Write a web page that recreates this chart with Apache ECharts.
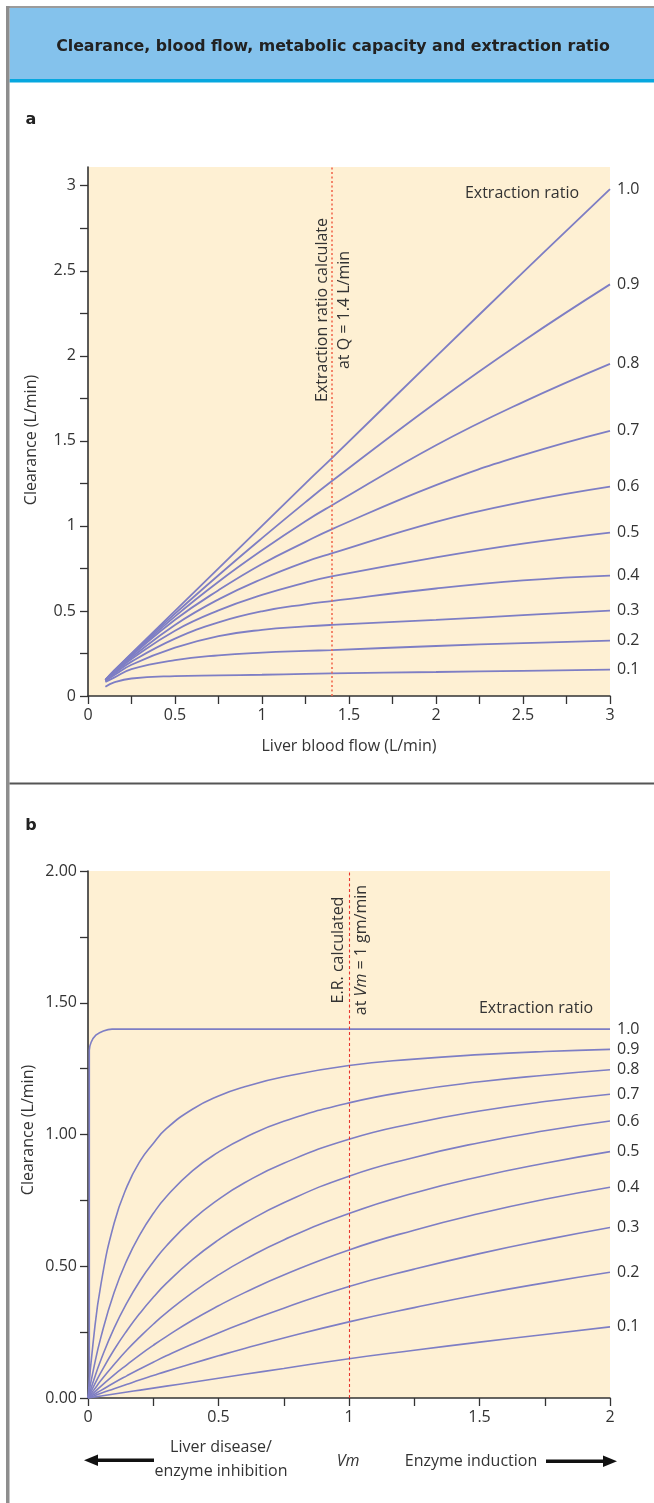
<!DOCTYPE html>
<html><head><meta charset="utf-8">
<script src="https://cdn.jsdelivr.net/npm/echarts@6/dist/echarts.min.js"></script>
<style>html,body{margin:0;padding:0;background:#fff}#c{width:654px;height:1503px}</style>
</head><body><div id="c"></div>
<script>
// ---------- data ----------
const erLabels = ['1.0','0.9','0.8','0.7','0.6','0.5','0.4','0.3','0.2','0.1'];

// Panel a: clearance vs liver blood flow
const flowQ  = [0.1, 0.15, 0.25, 0.5, 0.75, 1.0, 1.25, 1.4, 2.0, 2.5, 3.0];
const clA_10 = [0.095,0.15,0.25,0.5,0.75,1.0,1.25,1.397,1.995,2.49,2.98];
const clA_09 = [0.094,0.148,0.247,0.484,0.71,0.928,1.14,1.262,1.726,2.086,2.42];
const clA_08 = [0.094,0.146,0.241,0.468,0.672,0.857,1.028,1.12,1.474,1.728,1.953];
const clA_07 = [0.093,0.143,0.236,0.448,0.622,0.776,0.906,0.98,1.24,1.416,1.559];
const clA_06 = [0.093,0.14,0.227,0.418,0.568,0.688,0.789,0.838,1.024,1.141,1.231];
const clA_05 = [0.092,0.136,0.217,0.384,0.503,0.594,0.667,0.703,0.815,0.896,0.961];
const clA_04 = [0.091,0.13,0.202,0.337,0.433,0.498,0.539,0.558,0.632,0.680,0.708];
const clA_03 = [0.088,0.122,0.184,0.284,0.352,0.389,0.409,0.418,0.447,0.476,0.502];
const clA_02 = [0.082,0.108,0.158,0.211,0.239,0.255,0.265,0.27,0.294,0.311,0.325];
const clA_01 = [0.055,0.08,0.103,0.117,0.121,0.125,0.13,0.133,0.141,0.148,0.155];
const markQ = 1.4;
const xTicksA = [0,0.25,0.5,0.75,1,1.25,1.5,1.75,2,2.25,2.5,2.75,3];
const xLabelsA = [0,0.5,1,1.5,2,2.5,3];
const yTicksA = [0,0.25,0.5,0.75,1,1.25,1.5,1.75,2,2.25,2.5,2.75,3];
const yLabelsA = [0,0.5,1,1.5,2,2.5,3];

// Panel b: clearance vs Vm
const vmB    = [0,0.02,0.05,0.1,0.15,0.2,0.25,0.3,0.4,0.5,0.6,0.75,1.0,1.25,1.5,1.75,2.0];
const clB_09 = [0,0.214,0.434,0.663,0.804,0.900,0.966,1.022,1.096,1.146,1.181,1.219,1.262,1.286,1.303,1.315,1.323];
const clB_08 = [0,0.104,0.233,0.400,0.525,0.622,0.700,0.764,0.862,0.933,0.988,1.050,1.120,1.167,1.200,1.225,1.246];
const clB_07 = [0,0.062,0.146,0.265,0.363,0.446,0.516,0.577,0.676,0.754,0.817,0.891,0.982,1.043,1.089,1.125,1.153];
const clB_06 = [0,0.041,0.098,0.183,0.257,0.323,0.382,0.435,0.525,0.600,0.663,0.741,0.842,0.913,0.969,1.014,1.051];
const clB_05 = [0,0.027,0.067,0.127,0.183,0.233,0.280,0.323,0.400,0.467,0.525,0.600,0.700,0.778,0.840,0.891,0.935];
const clB_04 = [0,0.018,0.045,0.088,0.127,0.165,0.200,0.233,0.295,0.350,0.400,0.467,0.562,0.637,0.700,0.754,0.800];
const clB_03 = [0,0.012,0.029,0.058,0.085,0.111,0.136,0.160,0.205,0.247,0.286,0.341,0.423,0.489,0.548,0.600,0.647];
const clB_02 = [0,0.007,0.018,0.035,0.052,0.069,0.085,0.101,0.131,0.160,0.188,0.228,0.289,0.343,0.393,0.437,0.477];
const clB_01 = [0,0.003,0.0075,0.015,0.0225,0.03,0.0375,0.045,0.06,0.075,0.09,0.112,0.149,0.181,0.212,0.241,0.270];
const vmB_10 = [0.005,0.005,0.012,0.03,0.059,0.092,2.0];
const clB_10 = [0,1.32,1.35,1.377,1.393,1.40,1.40];
const markVm = 1;
const xTicksB = [0,0.25,0.5,0.75,1,1.25,1.5,1.75,2];
const xLabelsB = [0,0.5,1,1.5,2];

// ---------- chart ----------
const FONT = '"Open Sans", sans-serif';
const LINE = '#7e7ec4';
const TXT = '#333';
const FS = 16;
const pairs = (xs, ys) => xs.map((x, i) => [x, ys[i]]);

const seriesA = [clA_10,clA_09,clA_08,clA_07,clA_06,clA_05,clA_04,clA_03,clA_02,clA_01].map((ys, k) => ({
  type: 'line', name: erLabels[k], xAxisIndex: 0, yAxisIndex: 0,
  data: pairs(flowQ, ys), smooth: 0.45, showSymbol: false, symbol: 'none',
  lineStyle: { color: LINE, width: 1.8 }, silent: true, z: 3,
  endLabel: { show: true, formatter: erLabels[k], distance: 7, color: TXT, fontSize: FS, fontFamily: FONT },
  markLine: k === 0 ? { symbol: 'none', silent: true, label: { show: false },
    lineStyle: { color: '#f26a4f', type: [2, 2.5], width: 1.6 }, data: [{ xAxis: markQ }] } : undefined
}));

const seriesB = [clB_09,clB_08,clB_07,clB_06,clB_05,clB_04,clB_03,clB_02,clB_01].map((ys, k) => ({
  type: 'line', name: erLabels[k + 1], xAxisIndex: 1, yAxisIndex: 1,
  data: pairs(vmB, ys), smooth: 0.5, showSymbol: false, symbol: 'none',
  lineStyle: { color: LINE, width: 1.6 }, silent: true, z: 3,
  endLabel: { show: true, formatter: erLabels[k + 1], distance: 7, color: TXT, fontSize: FS, fontFamily: FONT }
}));
seriesB.unshift({
  type: 'line', name: erLabels[0], xAxisIndex: 1, yAxisIndex: 1,
  data: pairs(vmB_10, clB_10), smooth: 0.4, showSymbol: false, symbol: 'none',
  lineStyle: { color: LINE, width: 1.6 }, silent: true, z: 3,
  endLabel: { show: true, formatter: erLabels[0], distance: 7, color: TXT, fontSize: FS, fontFamily: FONT },
  markLine: { symbol: 'none', silent: true, label: { show: false },
    lineStyle: { color: '#e8352d', type: [3, 2.5], width: 1.1 }, data: [{ xAxis: markVm }] }
});

function xAxisCfg(gi, max, ticks, labels) {
  return {
    type: 'value', gridIndex: gi, min: 0, max: max, interval: 0.25,
    axisLine: { show: true, onZero: false, lineStyle: { color: TXT, width: 1.6 } },
    axisTick: { show: true, length: 8, customValues: ticks, lineStyle: { color: TXT, width: 1.3 } },
    axisLabel: { customValues: labels, margin: 11, color: TXT, fontSize: FS, fontFamily: FONT,
      formatter: v => String(v) },
    splitLine: { show: false }
  };
}

const txt = (x, y, text, extra) => Object.assign({ type: 'text', x: x, y: y, z: 11,
  style: { text: text, fill: TXT, font: FS + 'px ' + FONT, align: 'center', verticalAlign: 'middle' } }, extra || {});

const option = {
  animation: false,
  backgroundColor: '#ffffff',
  grid: [
    { left: 88, top: 167, width: 522, height: 529, show: true, backgroundColor: '#fef0d3', borderWidth: 0 },
    { left: 88, top: 871, width: 522, height: 527, show: true, backgroundColor: '#fef0d3', borderWidth: 0 }
  ],
  xAxis: [ xAxisCfg(0, 3, xTicksA, xLabelsA), xAxisCfg(1, 2, xTicksB, xLabelsB) ],
  yAxis: [
    { type: 'value', gridIndex: 0, min: 0, max: 3.11,
      axisLine: { show: true, lineStyle: { color: TXT, width: 1.6 } },
      axisTick: { show: true, length: 8, customValues: yTicksA, lineStyle: { color: TXT, width: 1.3 } },
      axisLabel: { customValues: yLabelsA, margin: 12, color: TXT, fontSize: FS, fontFamily: FONT,
        formatter: v => String(v) },
      splitLine: { show: false } },
    { type: 'value', gridIndex: 1, min: 0, max: 2, interval: 0.25,
      axisLine: { show: true, lineStyle: { color: TXT, width: 1.6 } },
      axisTick: { show: true, length: 8, lineStyle: { color: TXT, width: 1.3 } },
      axisLabel: { margin: 11, color: TXT, fontSize: FS, fontFamily: FONT,
        formatter: v => (Math.abs(v * 2 - Math.round(v * 2)) < 1e-9 ? v.toFixed(2) : '') },
      splitLine: { show: false } }
  ],
  series: seriesA.concat(seriesB),
  graphic: [
    // frame and header
    { type: 'rect', shape: { x: 6, y: 6, width: 648, height: 2 }, style: { fill: '#9b9b9b' }, z: 10 },
    { type: 'rect', shape: { x: 6, y: 6, width: 3.5, height: 1497 }, style: { fill: '#8e8e8e' }, z: 10 },
    { type: 'rect', shape: { x: 9.5, y: 8, width: 645, height: 71 }, style: { fill: '#84c2ec' }, z: 9 },
    { type: 'rect', shape: { x: 9.5, y: 79, width: 645, height: 3.5 }, style: { fill: '#06a7df' }, z: 9 },
    { type: 'text', x: 333, y: 47, z: 11, style: { text: 'Clearance, blood flow, metabolic capacity and extraction ratio',
      fill: '#222', font: 'bold 15.8px "DejaVu Sans", sans-serif', align: 'center', verticalAlign: 'middle' } },
    { type: 'text', x: 31, y: 120, z: 11, style: { text: 'a', fill: '#222', font: 'bold 16px "DejaVu Sans", sans-serif', align: 'center', verticalAlign: 'middle' } },
    { type: 'rect', shape: { x: 9.5, y: 782.5, width: 645, height: 2 }, style: { fill: '#555' }, z: 10 },
    { type: 'text', x: 31, y: 826, z: 11, style: { text: 'b', fill: '#222', font: 'bold 16px "DejaVu Sans", sans-serif', align: 'center', verticalAlign: 'middle' } },

    // panel a texts
    txt(31, 440, 'Clearance (L/min)', { rotation: Math.PI / 2 }),
    txt(349, 746, 'Liver blood flow (L/min)'),
    txt(322, 310, 'Extraction ratio calculate', { rotation: Math.PI / 2 }),
    txt(344, 310, 'at Q = 1.4 L/min', { rotation: Math.PI / 2 }),
    txt(522, 193, 'Extraction ratio'),

    // panel b texts
    txt(28, 1130, 'Clearance (L/min)', { rotation: Math.PI / 2 }),
    txt(338, 950, 'E.R. calculated', { rotation: Math.PI / 2 }),
    { type: 'text', x: 361, y: 950, rotation: Math.PI / 2, z: 11, style: {
      text: '{n|at }{i|Vm}{n| = 1 gm/min}', align: 'center', verticalAlign: 'middle',
      rich: { n: { fill: TXT, fontSize: FS, fontFamily: FONT }, i: { fill: TXT, fontSize: FS, fontFamily: FONT, fontStyle: 'italic' } } } },
    txt(536, 1008, 'Extraction ratio'),
    { type: 'text', x: 221, y: 1459, z: 11, style: { text: 'Liver disease/\nenzyme inhibition', fill: TXT,
      font: FS + 'px ' + FONT, align: 'center', verticalAlign: 'middle', lineHeight: 24 } },
    { type: 'text', x: 348, y: 1461, z: 11, style: { text: 'Vm', fill: TXT,
      font: 'italic ' + FS + 'px ' + FONT, align: 'center', verticalAlign: 'middle' } },
    txt(471, 1461, 'Enzyme induction'),
    // arrows
    { type: 'rect', shape: { x: 94, y: 1458.5, width: 60, height: 3.5 }, style: { fill: '#111' }, z: 11 },
    { type: 'polygon', shape: { points: [[84, 1460.2], [98, 1454.5], [98, 1466]] }, style: { fill: '#111' }, z: 11 },
    { type: 'rect', shape: { x: 546, y: 1459.5, width: 60, height: 3.5 }, style: { fill: '#111' }, z: 11 },
    { type: 'polygon', shape: { points: [[617, 1461.2], [603, 1455.5], [603, 1467]] }, style: { fill: '#111' }, z: 11 }
  ]
};

const chart = echarts.init(document.getElementById('c'), null, { renderer: 'canvas' });
chart.setOption(option);
</script>
</body></html>
